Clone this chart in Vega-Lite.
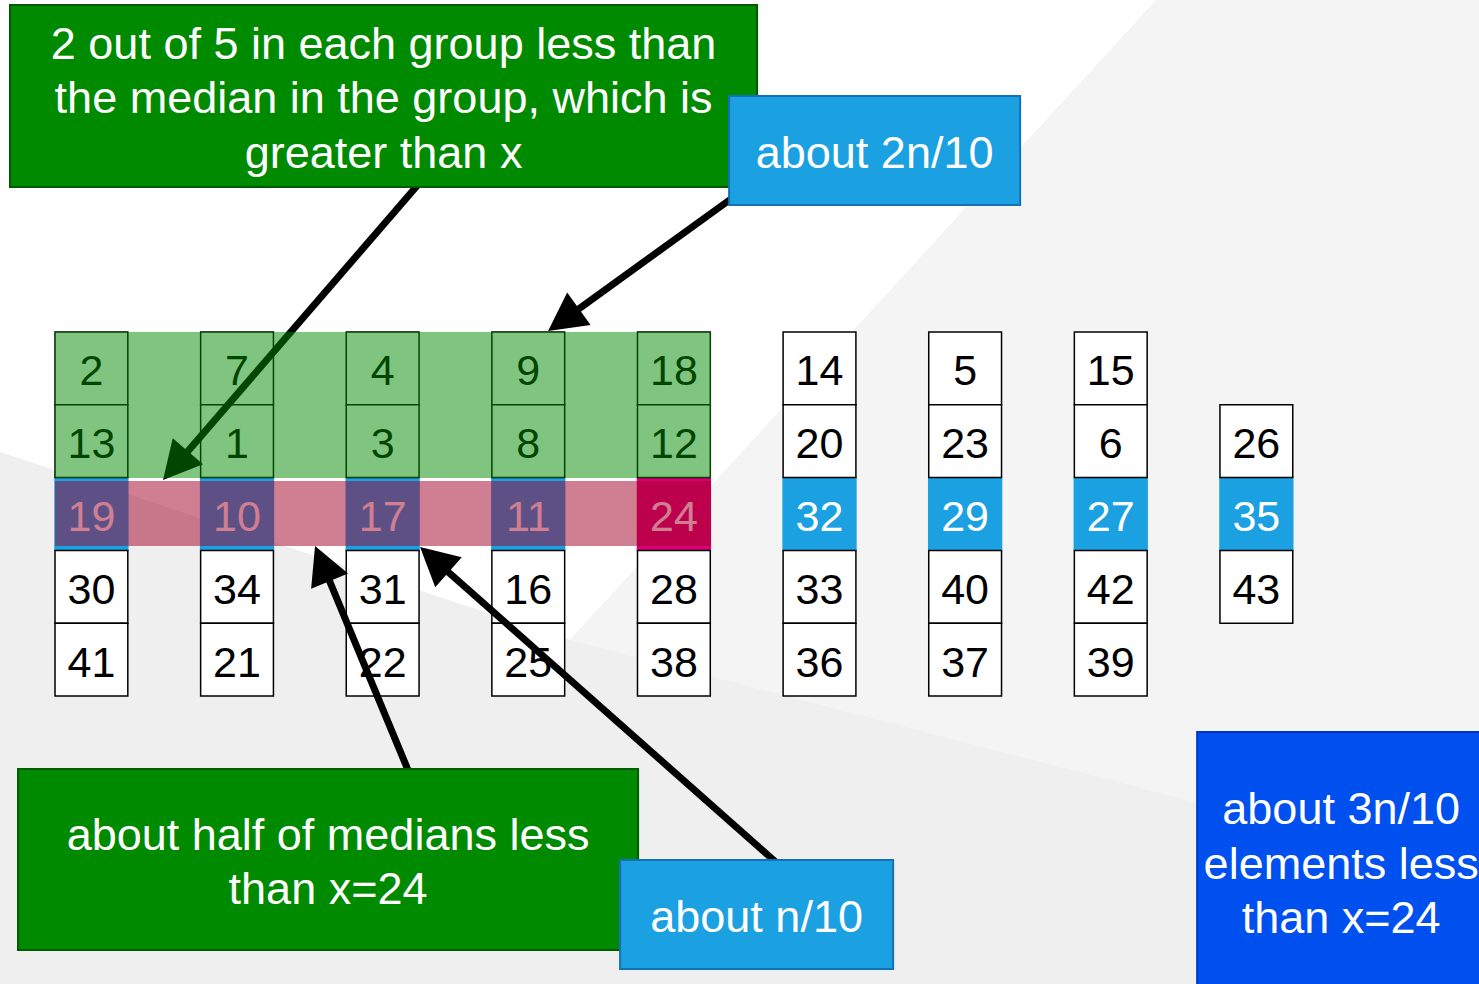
{
  "$schema": "https://vega.github.io/schema/vega-lite/v6.json",
  "width": 1479,
  "height": 984,
  "autosize": {"type": "fit", "contains": "padding"},
  "padding": 0,
  "background": "#efefef",
  "config": {"view": {"stroke": null}},
  "datasets": {
    "regions": [
      {"region": "white", "x": -0.62775, "y": -5.06044, "y2": 1.1484},
      {"region": "white", "x": 3.2871, "y": -5.06044, "y2": 3.7308},
      {"region": "white", "x": 7.3118, "y": -5.06044, "y2": -5.06044},
      {"region": "light", "x": 3.2871, "y": 3.7308, "y2": 3.7308},
      {"region": "light", "x": 7.3118, "y": -5.06044, "y2": 5.8187},
      {"region": "light", "x": 9.52885, "y": -5.06044, "y2": 6.9725}
    ],
    "cells": [
      {"col": 0, "row": 2, "value": 19, "kind": "median"},
      {"col": 1, "row": 2, "value": 10, "kind": "median"},
      {"col": 2, "row": 2, "value": 17, "kind": "median"},
      {"col": 3, "row": 2, "value": 11, "kind": "median"},
      {"col": 4, "row": 2, "value": 24, "kind": "pivot"},
      {"col": 5, "row": 2, "value": 32, "kind": "median"},
      {"col": 6, "row": 2, "value": 29, "kind": "median"},
      {"col": 7, "row": 2, "value": 27, "kind": "median"},
      {"col": 8, "row": 2, "value": 35, "kind": "median"},
      {"col": 0, "row": 0, "value": 2, "kind": "plain"},
      {"col": 0, "row": 1, "value": 13, "kind": "plain"},
      {"col": 0, "row": 3, "value": 30, "kind": "plain"},
      {"col": 0, "row": 4, "value": 41, "kind": "plain"},
      {"col": 1, "row": 0, "value": 7, "kind": "plain"},
      {"col": 1, "row": 1, "value": 1, "kind": "plain"},
      {"col": 1, "row": 3, "value": 34, "kind": "plain"},
      {"col": 1, "row": 4, "value": 21, "kind": "plain"},
      {"col": 2, "row": 0, "value": 4, "kind": "plain"},
      {"col": 2, "row": 1, "value": 3, "kind": "plain"},
      {"col": 2, "row": 3, "value": 31, "kind": "plain"},
      {"col": 2, "row": 4, "value": 22, "kind": "plain"},
      {"col": 3, "row": 0, "value": 9, "kind": "plain"},
      {"col": 3, "row": 1, "value": 8, "kind": "plain"},
      {"col": 3, "row": 3, "value": 16, "kind": "plain"},
      {"col": 3, "row": 4, "value": 25, "kind": "plain"},
      {"col": 4, "row": 0, "value": 18, "kind": "plain"},
      {"col": 4, "row": 1, "value": 12, "kind": "plain"},
      {"col": 4, "row": 3, "value": 28, "kind": "plain"},
      {"col": 4, "row": 4, "value": 38, "kind": "plain"},
      {"col": 5, "row": 0, "value": 14, "kind": "plain"},
      {"col": 5, "row": 1, "value": 20, "kind": "plain"},
      {"col": 5, "row": 3, "value": 33, "kind": "plain"},
      {"col": 5, "row": 4, "value": 36, "kind": "plain"},
      {"col": 6, "row": 0, "value": 5, "kind": "plain"},
      {"col": 6, "row": 1, "value": 23, "kind": "plain"},
      {"col": 6, "row": 3, "value": 40, "kind": "plain"},
      {"col": 6, "row": 4, "value": 37, "kind": "plain"},
      {"col": 7, "row": 0, "value": 15, "kind": "plain"},
      {"col": 7, "row": 1, "value": 6, "kind": "plain"},
      {"col": 7, "row": 3, "value": 42, "kind": "plain"},
      {"col": 7, "row": 4, "value": 39, "kind": "plain"},
      {"col": 8, "row": 1, "value": 26, "kind": "plain"},
      {"col": 8, "row": 3, "value": 43, "kind": "plain"}
    ],
    "arrows": [
      {"arrow": "a1", "sx": 2.2706, "sy": -2.5879, "tx": 0.4918, "ty": 1.533},
      {"arrow": "a2", "sx": 4.4203, "sy": -2.3681, "tx": 3.136, "ty": -0.5137},
      {"arrow": "a3", "sx": 2.1882, "sy": 5.5852, "tx": 1.5357, "ty": 2.4396},
      {"arrow": "a4", "sx": 4.7225, "sy": 6.8214, "tx": 2.2569, "ty": 2.4533}
    ],
    "bands": [
      {"band": "green", "x": -0.25, "x2": 4.2555, "y": -0.5, "y2": 1.5055},
      {"band": "red", "x": -0.25, "x2": 4.2555, "y": 1.5467, "y2": 2.4396}
    ],
    "boxes": [
      {"box": "green", "x": -0.5591, "x2": 4.5714, "y": -4.9918, "y2": -2.4918, "label": "2 out of 5 in each group less than\nthe median in the group, which is\ngreater than x"},
      {"box": "blue", "x": 4.3791, "x2": 6.3777, "y": -3.7418, "y2": -2.2445, "label": "about 2n/10"},
      {"box": "green", "x": -0.5041, "x2": 3.7541, "y": 5.5027, "y2": 7.989, "label": "about half of medians less\nthan x=24"},
      {"box": "blue", "x": 3.6305, "x2": 5.5055, "y": 6.7527, "y2": 8.25, "label": "about n/10"},
      {"box": "navy", "x": 7.5934, "x2": 9.5714, "y": 4.9945, "y2": 8.5385, "label": "about 3n/10\nelements less\nthan x=24"}
    ]
  },
  "resolve": {"scale": {"color": "independent", "fill": "independent", "stroke": "independent"}},
  "layer": [
    {
      "data": {"name": "regions"},
      "mark": {"type": "area", "strokeWidth": 0, "opacity": 1},
      "encoding": {
        "x": {"field": "x", "type": "quantitative", "axis": null, "scale": {"domain": [-0.62775, 9.52885], "nice": false, "zero": false}},
        "y": {"field": "y", "type": "quantitative", "axis": null, "stack": null, "scale": {"domain": [-5.06044, 8.45604], "nice": false, "zero": false, "reverse": true}},
        "y2": {"field": "y2"},
        "color": {"field": "region", "type": "nominal", "legend": null, "scale": {"domain": ["white", "light"], "range": ["#ffffff", "#f4f4f4"]}}
      }
    },
    {
      "data": {"name": "cells"},
      "mark": {"type": "square", "size": 5300, "strokeWidth": 1.5, "opacity": 1, "filled": true},
      "encoding": {
        "x": {"field": "col", "type": "quantitative", "axis": null, "scale": {"domain": [-0.62775, 9.52885], "nice": false, "zero": false}},
        "y": {"field": "row", "type": "quantitative", "axis": null, "scale": {"domain": [-5.06044, 8.45604], "nice": false, "zero": false, "reverse": true}},
        "fill": {"field": "kind", "type": "nominal", "legend": null, "scale": {"domain": ["plain", "median", "pivot"], "range": ["#ffffff", "#1ba1e2", "#d80073"]}},
        "stroke": {"field": "kind", "type": "nominal", "legend": null, "scale": {"domain": ["plain", "median", "pivot"], "range": ["#000000", "#1ba1e2", "#d80073"]}}
      }
    },
    {
      "data": {"name": "cells"},
      "mark": {"type": "text", "font": "Liberation Sans", "fontSize": 43, "align": "center", "baseline": "middle", "dy": 4},
      "encoding": {
        "x": {"field": "col", "type": "quantitative", "axis": null, "scale": {"domain": [-0.62775, 9.52885], "nice": false, "zero": false}},
        "y": {"field": "row", "type": "quantitative", "axis": null, "scale": {"domain": [-5.06044, 8.45604], "nice": false, "zero": false, "reverse": true}},
        "text": {"field": "value", "type": "nominal"},
        "color": {"field": "kind", "type": "nominal", "legend": null, "scale": {"domain": ["plain", "median", "pivot"], "range": ["#000000", "#ffffff", "#ffffff"]}}
      }
    },
    {
      "data": {"name": "arrows"},
      "transform": [
        {"calculate": "(datum.tx - datum.sx) * 145.6", "as": "dxp"},
        {"calculate": "(datum.ty - datum.sy) * 72.8", "as": "dyp"},
        {"calculate": "sqrt(datum.dxp * datum.dxp + datum.dyp * datum.dyp)", "as": "len"},
        {"calculate": "datum.tx - (datum.tx - datum.sx) * 20 / datum.len", "as": "ex"},
        {"calculate": "datum.ty - (datum.ty - datum.sy) * 20 / datum.len", "as": "ey"}
      ],
      "mark": {"type": "rule", "strokeWidth": 7, "color": "#000000", "strokeCap": "butt"},
      "encoding": {
        "x": {"field": "sx", "type": "quantitative", "axis": null, "scale": {"domain": [-0.62775, 9.52885], "nice": false, "zero": false}},
        "y": {"field": "sy", "type": "quantitative", "axis": null, "scale": {"domain": [-5.06044, 8.45604], "nice": false, "zero": false, "reverse": true}},
        "x2": {"field": "ex"},
        "y2": {"field": "ey"}
      }
    },
    {
      "data": {"name": "arrows"},
      "transform": [
        {"calculate": "atan2((datum.tx - datum.sx) * 145.6, -(datum.ty - datum.sy) * 72.8) * 180 / PI", "as": "ang"}
      ],
      "mark": {"type": "point", "shape": "M0,0L-1,1.9L1,1.9Z", "size": 1600, "filled": true, "opacity": 1, "color": "#000000", "strokeWidth": 0},
      "encoding": {
        "x": {"field": "tx", "type": "quantitative", "axis": null, "scale": {"domain": [-0.62775, 9.52885], "nice": false, "zero": false}},
        "y": {"field": "ty", "type": "quantitative", "axis": null, "scale": {"domain": [-5.06044, 8.45604], "nice": false, "zero": false, "reverse": true}},
        "angle": {"field": "ang", "type": "quantitative", "scale": null}
      }
    },
    {
      "data": {"name": "bands"},
      "mark": {"type": "rect", "opacity": 0.5, "strokeWidth": 0},
      "encoding": {
        "x": {"field": "x", "type": "quantitative", "axis": null, "scale": {"domain": [-0.62775, 9.52885], "nice": false, "zero": false}},
        "y": {"field": "y", "type": "quantitative", "axis": null, "scale": {"domain": [-5.06044, 8.45604], "nice": false, "zero": false, "reverse": true}},
        "x2": {"field": "x2"},
        "y2": {"field": "y2"},
        "color": {"field": "band", "type": "nominal", "legend": null, "scale": {"domain": ["green", "red"], "range": ["#008a00", "#a20025"]}}
      }
    },
    {
      "data": {"name": "boxes"},
      "mark": {"type": "rect", "strokeWidth": 2, "clip": true},
      "encoding": {
        "x": {"field": "x", "type": "quantitative", "axis": null, "scale": {"domain": [-0.62775, 9.52885], "nice": false, "zero": false}},
        "y": {"field": "y", "type": "quantitative", "axis": null, "scale": {"domain": [-5.06044, 8.45604], "nice": false, "zero": false, "reverse": true}},
        "x2": {"field": "x2"},
        "y2": {"field": "y2"},
        "fill": {"field": "box", "type": "nominal", "legend": null, "scale": {"domain": ["green", "blue", "navy"], "range": ["#008a00", "#1ba1e2", "#0050ef"]}},
        "stroke": {"field": "box", "type": "nominal", "legend": null, "scale": {"domain": ["green", "blue", "navy"], "range": ["#005c00", "#1172b8", "#0036c8"]}}
      }
    },
    {
      "data": {"name": "boxes"},
      "transform": [
        {"calculate": "(datum.x + datum.x2) / 2", "as": "cx"},
        {"calculate": "(datum.y + datum.y2) / 2 - (length(split(datum.label, '\\n')) - 1) * 54.5 / 2 / 72.8", "as": "cy"}
      ],
      "mark": {"type": "text", "font": "Liberation Sans", "fontSize": 45, "align": "center", "baseline": "middle", "dy": 3.5, "lineBreak": "\n", "lineHeight": 54.5, "color": "#ffffff", "clip": true},
      "encoding": {
        "x": {"field": "cx", "type": "quantitative", "axis": null, "scale": {"domain": [-0.62775, 9.52885], "nice": false, "zero": false}},
        "y": {"field": "cy", "type": "quantitative", "axis": null, "scale": {"domain": [-5.06044, 8.45604], "nice": false, "zero": false, "reverse": true}},
        "text": {"field": "label", "type": "nominal"}
      }
    }
  ]
}
